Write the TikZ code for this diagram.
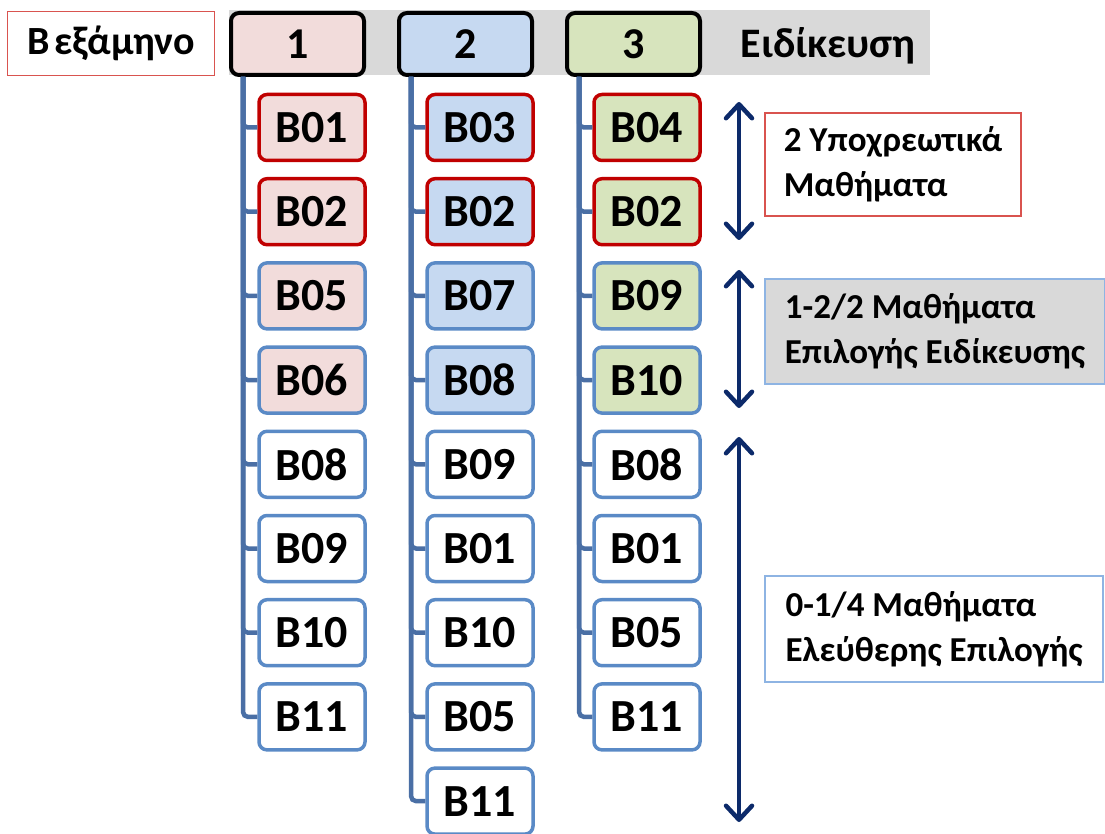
\documentclass[tikz,border=0pt]{standalone}
\usepackage{fontspec}
\setmainfont{Carlito}
\usetikzlibrary{arrows.meta}
\definecolor{pinkfill}{HTML}{F2DCDB}
\definecolor{bluefill}{HTML}{C6D9F1}
\definecolor{greenfill}{HTML}{D7E4BD}
\definecolor{redline}{HTML}{C00000}
\definecolor{blueline}{HTML}{5A8AC6}
\definecolor{treeline}{HTML}{4A6FA5}
\definecolor{navy}{HTML}{0C2A6A}
\definecolor{bandgray}{HTML}{D9D9D9}
\definecolor{softred}{HTML}{D9534F}
\definecolor{softblue}{HTML}{8EB4E3}
\tikzset{
  sem/.style={draw=black, line width=4pt, rounded corners=8pt,
    minimum width=133pt, minimum height=62pt, inner sep=0pt,
    font=\fontsize{44}{48}\selectfont\bfseries},
  course/.style={line width=3.5pt, rounded corners=8pt,
    minimum width=106pt, minimum height=66pt, inner sep=0pt,
    font=\fontsize{46}{50}\selectfont\bfseries},
  req/.style={course, draw=redline},
  opt/.style={course, draw=blueline},
  tree/.style={draw=treeline, line width=4.5pt, rounded corners=5pt},
  arr/.style={draw=navy, line width=4.5pt,
    {Straight Barb[length=14pt,width=26pt,line width=4.5pt,round]}-{Straight Barb[length=14pt,width=26pt,line width=4.5pt,round]}},
  note/.style={line width=1.2pt, align=left, inner sep=0pt,
    font=\fontsize{35}{45}\selectfont\bfseries},
}
\begin{document}
\begin{tikzpicture}[x=1pt,y=-1pt]
\useasboundingbox (0,0) rectangle (1105,834);

% header band and title
\node[fill=bandgray, minimum width=701pt, minimum height=65pt, inner sep=0pt] (band) at (579.5,42.5) {};
\node[draw=softred, line width=1.2pt, fill=white, minimum width=207pt, minimum height=64pt, inner sep=0pt,
  font=\fontsize{40}{44}\selectfont\bfseries] (title) at (111,43.5) {Β\hspace{0.12em}εξάμηνο};
\node[font=\fontsize{42}{46}\selectfont\bfseries] (spec) at (828,46) {Ειδίκευση};

% semester boxes
\node[sem, fill=pinkfill]  (s1) at (297.5,44) {1};
\node[sem, fill=bluefill]  (s2) at (465.5,44) {2};
\node[sem, fill=greenfill] (s3) at (633.5,44) {3};

% course boxes: column 1
\node[req, fill=pinkfill] (c1r1) at (312,127.5) {B01};
\node[req, fill=pinkfill] (c1r2) at (312,211.7) {B02};
\node[opt, fill=pinkfill] (c1r3) at (312,295.9) {B05};
\node[opt, fill=pinkfill] (c1r4) at (312,380.1) {B06};
\node[opt, fill=white]    (c1r5) at (312,464.3) {B08};
\node[opt, fill=white]    (c1r6) at (312,548.5) {B09};
\node[opt, fill=white]    (c1r7) at (312,632.7) {B10};
\node[opt, fill=white]    (c1r8) at (312,716.9) {B11};

% column 2
\node[req, fill=bluefill] (c2r1) at (480,127.5) {B03};
\node[req, fill=bluefill] (c2r2) at (480,211.7) {B02};
\node[opt, fill=bluefill] (c2r3) at (480,295.9) {B07};
\node[opt, fill=bluefill] (c2r4) at (480,380.1) {B08};
\node[opt, fill=white]    (c2r5) at (480,464.3) {B09};
\node[opt, fill=white]    (c2r6) at (480,548.5) {B01};
\node[opt, fill=white]    (c2r7) at (480,632.7) {B10};
\node[opt, fill=white]    (c2r8) at (480,716.9) {B05};
\node[opt, fill=white]    (c2r9) at (480,801.1) {B11};

% column 3
\node[req, fill=greenfill] (c3r1) at (647,127.5) {B04};
\node[req, fill=greenfill] (c3r2) at (647,211.7) {B02};
\node[opt, fill=greenfill] (c3r3) at (647,295.9) {B09};
\node[opt, fill=greenfill] (c3r4) at (647,380.1) {B10};
\node[opt, fill=white]     (c3r5) at (647,464.3) {B08};
\node[opt, fill=white]     (c3r6) at (647,548.5) {B01};
\node[opt, fill=white]     (c3r7) at (647,632.7) {B05};
\node[opt, fill=white]     (c3r8) at (647,716.9) {B11};

% tree connectors from each semester to its courses
\foreach \r in {1,...,8}
  \draw[tree] ([xshift=14pt]s1.south west) |- (c1r\r.west);
\foreach \r in {1,...,9}
  \draw[tree] ([xshift=14pt]s2.south west) |- (c2r\r.west);
\foreach \r in {1,...,8}
  \draw[tree] ([xshift=14pt]s3.south west) |- (c3r\r.west);

% range arrows
\coordinate (a1t) at (739,102);
\coordinate (a1b) at (739,240);
\coordinate (a2t) at (739,270);
\coordinate (a2b) at (739,408);
\coordinate (a3t) at (739,437);
\coordinate (a3b) at (739,822);
\draw[arr] (a1t) -- (a1b);
\draw[arr] (a2t) -- (a2b);
\draw[arr] (a3t) -- (a3b);

% notes
\node[note, draw=softred, fill=white, minimum width=256pt, minimum height=103pt] (n1) at (893,164.5)
  {2 Υποχρεωτικά\\Μαθήματα};
\node[note, draw=softblue, fill=bandgray, minimum width=340pt, minimum height=105pt] (n2) at (935,331.5)
  {1-2/2 Μαθήματα\\Επιλογής Ειδίκευσης};
\node[note, draw=softblue, fill=white, minimum width=338pt, minimum height=106pt] (n3) at (934,629)
  {0-1/4 Μαθήματα\\Ελεύθερης Επιλογής};
\end{tikzpicture}
\end{document}
